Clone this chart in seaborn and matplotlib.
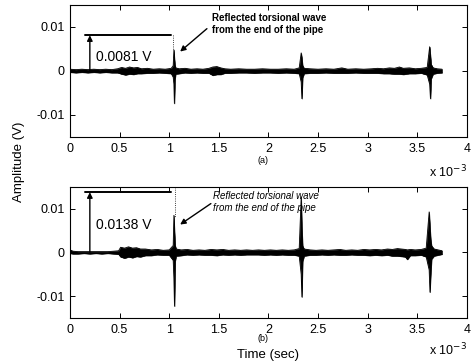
import numpy as np
import pandas as pd
import matplotlib
matplotlib.use("Agg")
import matplotlib.pyplot as plt
import seaborn as sns

# ---- data (time in ms, amplitude envelope in V) ----
time_a = [0.00, 0.06, 0.12, 0.18, 0.24, 0.30, 0.36, 0.42, 0.48, 0.52, 0.56, 0.60,
          0.64, 0.68, 0.72, 0.78, 0.84, 0.90, 0.96, 1.02, 1.04, 1.047, 1.052, 1.058,
          1.065, 1.10, 1.16, 1.22, 1.28, 1.34, 1.40, 1.44, 1.48, 1.52, 1.56, 1.62,
          1.70, 1.78, 1.86, 1.94, 2.02, 2.10, 2.18, 2.26, 2.31, 2.33, 2.337, 2.345,
          2.36, 2.42, 2.50, 2.58, 2.66, 2.74, 2.80, 2.88, 2.96, 3.04, 3.10, 3.16,
          3.22, 3.27, 3.32, 3.36, 3.42, 3.48, 3.54, 3.60, 3.625, 3.633, 3.64, 3.66,
          3.70, 3.75]
upper_a = [0.0004, 0.0003, 0.0004, 0.0003, 0.0004, 0.0003, 0.0004, 0.0003, 0.0005, 0.0008, 0.0006, 0.0009,
           0.0007, 0.0008, 0.0005, 0.0006, 0.0004, 0.0005, 0.0004, 0.0006, 0.0012, 0.0048, 0.0030, 0.0014,
           0.0007, 0.0005, 0.0006, 0.0004, 0.0005, 0.0004, 0.0006, 0.0009, 0.0010, 0.0007, 0.0005, 0.0004,
           0.0005, 0.0004, 0.0004, 0.0005, 0.0004, 0.0004, 0.0005, 0.0004, 0.0007, 0.0041, 0.0030, 0.0012,
           0.0006, 0.0005, 0.0004, 0.0005, 0.0004, 0.0007, 0.0004, 0.0005, 0.0004, 0.0005, 0.0006, 0.0005,
           0.0007, 0.0006, 0.0009, 0.0006, 0.0007, 0.0005, 0.0006, 0.0008, 0.0055, 0.0035, 0.0015, 0.0007,
           0.0005, 0.0004]
lower_a = [-0.0003, -0.0004, -0.0003, -0.0004, -0.0003, -0.0004, -0.0003, -0.0004, -0.0004, -0.0007, -0.0009, -0.0007,
           -0.0008, -0.0006, -0.0006, -0.0005, -0.0005, -0.0004, -0.0005, -0.0006, -0.0014, -0.0030, -0.0074, -0.0020,
           -0.0007, -0.0006, -0.0004, -0.0005, -0.0004, -0.0005, -0.0005, -0.0010, -0.0008, -0.0008, -0.0005, -0.0005,
           -0.0004, -0.0004, -0.0005, -0.0004, -0.0004, -0.0005, -0.0004, -0.0005, -0.0006, -0.0025, -0.0063, -0.0015,
           -0.0006, -0.0005, -0.0005, -0.0004, -0.0005, -0.0005, -0.0005, -0.0004, -0.0005, -0.0005, -0.0005, -0.0006,
           -0.0006, -0.0007, -0.0007, -0.0008, -0.0006, -0.0006, -0.0005, -0.0009, -0.0030, -0.0063, -0.0018, -0.0007,
           -0.0005, -0.0004]

time_b = [0.00, 0.03, 0.08, 0.14, 0.20, 0.26, 0.32, 0.38, 0.44, 0.49, 0.51, 0.55,
          0.59, 0.63, 0.67, 0.71, 0.76, 0.82, 0.88, 0.94, 1.00, 1.04, 1.047, 1.053,
          1.06, 1.07, 1.12, 1.18, 1.24, 1.30, 1.36, 1.42, 1.48, 1.54, 1.60, 1.66,
          1.72, 1.78, 1.84, 1.90, 1.96, 2.02, 2.08, 2.14, 2.20, 2.26, 2.31, 2.33,
          2.337, 2.345, 2.36, 2.42, 2.48, 2.54, 2.60, 2.66, 2.72, 2.78, 2.84, 2.90,
          2.96, 3.02, 3.08, 3.14, 3.20, 3.25, 3.30, 3.34, 3.38, 3.40, 3.43, 3.48,
          3.54, 3.59, 3.62, 3.628, 3.636, 3.645, 3.67, 3.71, 3.75]
upper_b = [0.0006, 0.0003, 0.0002, 0.0002, 0.0002, 0.0002, 0.0002, 0.0002, 0.0003, 0.0004, 0.0012, 0.0010,
           0.0013, 0.0010, 0.0011, 0.0008, 0.0008, 0.0006, 0.0007, 0.0005, 0.0006, 0.0016, 0.0085, 0.0050,
           0.0016, 0.0008, 0.0006, 0.0007, 0.0005, 0.0006, 0.0005, 0.0007, 0.0006, 0.0007, 0.0005, 0.0006,
           0.0005, 0.0006, 0.0005, 0.0006, 0.0005, 0.0006, 0.0005, 0.0006, 0.0005, 0.0006, 0.0009, 0.0127,
           0.0060, 0.0015, 0.0008, 0.0006, 0.0005, 0.0006, 0.0005, 0.0006, 0.0007, 0.0005, 0.0006, 0.0005,
           0.0007, 0.0006, 0.0007, 0.0006, 0.0008, 0.0007, 0.0009, 0.0008, 0.0007, 0.0006, 0.0007, 0.0006,
           0.0007, 0.0010, 0.0093, 0.0060, 0.0030, 0.0015, 0.0008, 0.0006, 0.0004]
lower_b = [-0.0002, -0.0003, -0.0003, -0.0002, -0.0003, -0.0002, -0.0003, -0.0002, -0.0003, -0.0004, -0.0010, -0.0013,
           -0.0010, -0.0012, -0.0009, -0.0010, -0.0007, -0.0007, -0.0005, -0.0006, -0.0006, -0.0018, -0.0060, -0.0123,
           -0.0020, -0.0008, -0.0007, -0.0005, -0.0006, -0.0005, -0.0006, -0.0006, -0.0007, -0.0005, -0.0006, -0.0005,
           -0.0006, -0.0005, -0.0005, -0.0005, -0.0006, -0.0005, -0.0006, -0.0005, -0.0006, -0.0006, -0.0008, -0.0050,
           -0.0102, -0.0020, -0.0008, -0.0006, -0.0006, -0.0005, -0.0006, -0.0005, -0.0006, -0.0006, -0.0005, -0.0006,
           -0.0006, -0.0007, -0.0006, -0.0007, -0.0006, -0.0008, -0.0008, -0.0009, -0.0010, -0.0016, -0.0007, -0.0007,
           -0.0006, -0.0010, -0.0040, -0.0091, -0.0050, -0.0015, -0.0008, -0.0006, -0.0004]

x_ticks = [0, 0.5, 1, 1.5, 2, 2.5, 3, 3.5, 4]
x_tick_labels = ["0", "0.5", "1", "1.5", "2", "2.5", "3", "3.5", "4"]
y_ticks = [-0.01, 0, 0.01]
y_tick_labels = ["-0.01", "0", "0.01"]

amp_a = 0.0081
amp_b = 0.0138
amp_labels = ["0.0081 V", "0.0138 V"]
panel_labels = ["(a)", "(b)"]
note_text = "Reflected torsional wave\nfrom the end of the pipe"

# ---- style ----
sns.set_theme(style="ticks")
plt.rcParams["font.family"] = ["Liberation Sans", "DejaVu Sans"]
plt.rcParams["axes.linewidth"] = 0.8

fig = plt.figure(figsize=(4.73, 3.62), dpi=100)
ax_a = fig.add_axes([0.148, 0.6215, 0.839, 0.365])
ax_b = fig.add_axes([0.148, 0.1215, 0.839, 0.362])

panels = [
    (ax_a, time_a, upper_a, lower_a, amp_a, amp_labels[0], panel_labels[0]),
    (ax_b, time_b, upper_b, lower_b, amp_b, amp_labels[1], panel_labels[1]),
]

for i, (ax, t, up, lo, amp, amp_lab, plab) in enumerate(panels):
    df = pd.DataFrame({"t": t, "up": up, "lo": lo})
    sns.lineplot(data=df, x="t", y="up", ax=ax, color="black", lw=0.6)
    sns.lineplot(data=df, x="t", y="lo", ax=ax, color="black", lw=0.6)
    ax.fill_between(df["t"], df["lo"], df["up"], color="black", lw=0.4)

    ax.set_xlim(0, 4)
    ax.set_ylim(-0.015, 0.015)
    ax.set_xticks(x_ticks)
    ax.set_xticklabels(x_tick_labels)
    ax.set_yticks(y_ticks)
    ax.set_yticklabels(y_tick_labels)
    ax.set_xlabel("")
    ax.set_ylabel("")
    ax.tick_params(direction="in", length=3.5, width=0.7, top=True, right=True,
                   labelsize=9, pad=4, colors="black")
    for s in ax.spines.values():
        s.set_color("black")
        s.set_visible(True)

    # amplitude marker
    ax.plot([0.15, 1.02], [amp, amp], color="black", lw=1.4)
    ax.annotate("", xy=(0.2, amp), xytext=(0.2, 0.0),
                arrowprops=dict(arrowstyle="-|>", color="black", lw=1.0,
                                mutation_scale=8, shrinkA=0, shrinkB=0))
    ax.text(0.26, 0.0032 if i == 0 else 0.0064, amp_lab, fontsize=10,
            ha="left", va="center", color="black")

    # dotted guide above the first reflection
    if i == 0:
        ax.plot([1.04, 1.04], [amp, 0.005], color="black", lw=0.6, ls=":")
    else:
        ax.plot([1.06, 1.06], [0.015, 0.0082], color="black", lw=0.6, ls=":")

    # note with arrow
    if i == 0:
        ax.text(1.43, 0.0106, note_text, fontsize=7, fontweight="bold",
                ha="left", va="center", linespacing=1.25, color="black")
        ax.annotate("", xy=(1.11, 0.0044), xytext=(1.38, 0.0096),
                    arrowprops=dict(arrowstyle="-|>", color="black", lw=1.0,
                                    mutation_scale=8, shrinkA=0, shrinkB=0))
    else:
        ax.text(1.44, 0.0115, note_text, fontsize=7, fontstyle="italic",
                ha="left", va="center", linespacing=1.25, color="black")
        ax.annotate("", xy=(1.11, 0.0064), xytext=(1.42, 0.0112),
                    arrowprops=dict(arrowstyle="-|>", color="black", lw=1.0,
                                    mutation_scale=8, shrinkA=0, shrinkB=0))

    # panel label and exponent
    ax.text(1.95, -0.175 if i == 0 else -0.158, plab, transform=ax.get_xaxis_transform(),
            fontsize=6.5, ha="center", va="center", color="black")
    ax.text(1.0, -0.265 if i == 0 else -0.245, r"x 10$^{-3}$", transform=ax.transAxes,
            fontsize=9, ha="right", va="center", color="black")

ax_b.set_xlabel("Time (sec)", fontsize=9.5, labelpad=10, color="black")
fig.text(0.04, 1 - 162 / 362, "Amplitude (V)", rotation=90, fontsize=9.5,
         ha="center", va="center", color="black")

fig.savefig("out.png", dpi=100, facecolor="white")
